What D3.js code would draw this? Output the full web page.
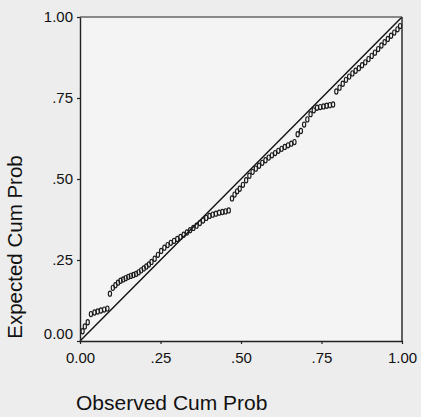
<!DOCTYPE html>
<html>
<head>
<meta charset="utf-8">
<script src="https://cdn.jsdelivr.net/npm/d3@7"></script>
<style>
  body { margin: 0; background: #ededed; }
  svg { display: block; font-family: "Liberation Sans", Arial, sans-serif; }
</style>
</head>
<body>
<div id="container"></div>
<script>
const WIDTH = 421;
const HEIGHT = 417;

// observed cumulative probability (x) and expected cumulative probability (y)
var observed = [
    0.008, 0.015, 0.024, 0.034, 0.045, 0.055, 0.065, 0.075, 0.085, 0.093,
    0.102, 0.110, 0.118, 0.126, 0.134, 0.142, 0.150, 0.158, 0.166, 0.174,
    0.182, 0.190, 0.198, 0.206, 0.214, 0.222, 0.232, 0.242, 0.252, 0.262,
    0.272, 0.282, 0.292, 0.302, 0.312, 0.322, 0.332, 0.342, 0.352, 0.362,
    0.372, 0.382, 0.392, 0.402, 0.412, 0.422, 0.432, 0.442, 0.452, 0.462,
    0.472, 0.480, 0.488, 0.496, 0.506, 0.516, 0.526, 0.536, 0.546, 0.556,
    0.566, 0.576, 0.586, 0.596, 0.606, 0.616, 0.626, 0.636, 0.646, 0.656,
    0.666, 0.676, 0.686, 0.696, 0.706, 0.716, 0.726, 0.736, 0.746, 0.756,
    0.766, 0.776, 0.786, 0.796, 0.806, 0.816, 0.826, 0.836, 0.846, 0.856,
    0.866, 0.876, 0.886, 0.896, 0.906, 0.916, 0.926, 0.936, 0.946, 0.956,
    0.966, 0.976, 0.986, 0.994
];
var expected = [
    0.030, 0.045, 0.058, 0.083, 0.088, 0.091, 0.094, 0.097, 0.100, 0.146,
    0.164, 0.172, 0.180, 0.186, 0.190, 0.194, 0.198, 0.201, 0.204, 0.207,
    0.212, 0.218, 0.224, 0.230, 0.236, 0.244, 0.254, 0.266, 0.278, 0.288,
    0.296, 0.303, 0.309, 0.315, 0.321, 0.328, 0.335, 0.342, 0.349, 0.356,
    0.364, 0.372, 0.380, 0.386, 0.390, 0.393, 0.396, 0.398, 0.400, 0.403,
    0.440, 0.452, 0.462, 0.470, 0.482, 0.496, 0.510, 0.522, 0.532, 0.541,
    0.550, 0.558, 0.566, 0.573, 0.580, 0.587, 0.593, 0.599, 0.604, 0.609,
    0.614, 0.638, 0.648, 0.668, 0.684, 0.700, 0.712, 0.720, 0.722, 0.724,
    0.726, 0.728, 0.730, 0.770, 0.782, 0.794, 0.806, 0.816, 0.826, 0.834,
    0.842, 0.851, 0.860, 0.870, 0.880, 0.890, 0.901, 0.912, 0.922, 0.932,
    0.942, 0.952, 0.962, 0.972
];

var tickValues = [0, 0.25, 0.5, 0.75, 1];
var tickLabels = ["0.00", ".25", ".50", ".75", "1.00"];

var drawChart = function () {
    var svg = d3.select("#container").append("svg")
        .attr("width", WIDTH)
        .attr("height", HEIGHT);

    var x = d3.scaleLinear().domain([0, 1]).range([80, 402]);
    var y = d3.scaleLinear().domain([0, 1]).range([341, 17]);

    // plot area
    svg.append("rect")
        .attr("x", x(0)).attr("y", y(1))
        .attr("width", x(1) - x(0)).attr("height", y(0) - y(1))
        .attr("fill", "#f4f4f4");

    // reference diagonal
    svg.append("line")
        .attr("x1", x(0)).attr("y1", y(0))
        .attr("x2", x(1)).attr("y2", y(1))
        .attr("stroke", "#111")
        .attr("stroke-width", 1.4);

    // points
    svg.append("g")
        .selectAll("ellipse")
        .data(observed)
        .enter().append("ellipse")
        .attr("cx", function (d) { return x(d); })
        .attr("cy", function (d, i) { return y(expected[i]); })
        .attr("rx", 1.6)
        .attr("ry", 2.6)
        .attr("fill", "none")
        .attr("stroke", "#1a1a1a")
        .attr("stroke-width", 1.15);

    // frame: top and right edges
    svg.append("line")
        .attr("x1", x(0)).attr("y1", y(1)).attr("x2", x(1)).attr("y2", y(1))
        .attr("stroke", "#666").attr("stroke-width", 1.3);
    svg.append("line")
        .attr("x1", x(1)).attr("y1", y(1)).attr("x2", x(1)).attr("y2", y(0))
        .attr("stroke", "#222").attr("stroke-width", 1.4);

    var yAxis = svg.append("g")
        .attr("transform", "translate(" + x(0) + ",0)")
        .call(d3.axisLeft(y)
            .tickValues(tickValues)
            .tickFormat(function (d, i) { return tickLabels[i]; })
            .tickSize(3)
            .tickPadding(4)
            .tickSizeOuter(0));

    var xAxis = svg.append("g")
        .attr("transform", "translate(0," + y(0) + ")")
        .call(d3.axisBottom(x)
            .tickValues(tickValues)
            .tickFormat(function (d, i) { return tickLabels[i]; })
            .tickSize(3)
            .tickPadding(8)
            .tickSizeOuter(0));

    [xAxis, yAxis].forEach(function (axis) {
        axis.select(".domain").attr("stroke", "#222").attr("stroke-width", 1.4);
        axis.selectAll(".tick line").attr("stroke", "#222").attr("stroke-width", 1.2);
        axis.selectAll(".tick text")
            .attr("fill", "#111")
            .style("font-size", "15px")
            .style("font-family", "'Liberation Sans', Arial, sans-serif");
    });

    // the 0.00 label on the y axis sits a little above its tick
    yAxis.selectAll(".tick text")
        .filter(function (d) { return d === 0; })
        .attr("dy", "-0.15em");

    svg.append("text")
        .attr("transform", "translate(22," + 247 + ") rotate(-90)")
        .attr("text-anchor", "middle")
        .attr("fill", "#111")
        .style("font-size", "20.5px")
        .text("Expected Cum Prob");

    svg.append("text")
        .attr("x", 76)
        .attr("y", 410)
        .attr("fill", "#111")
        .style("font-size", "21px")
        .text("Observed Cum Prob");
};

window.onload = drawChart;
</script>
</body>
</html>
